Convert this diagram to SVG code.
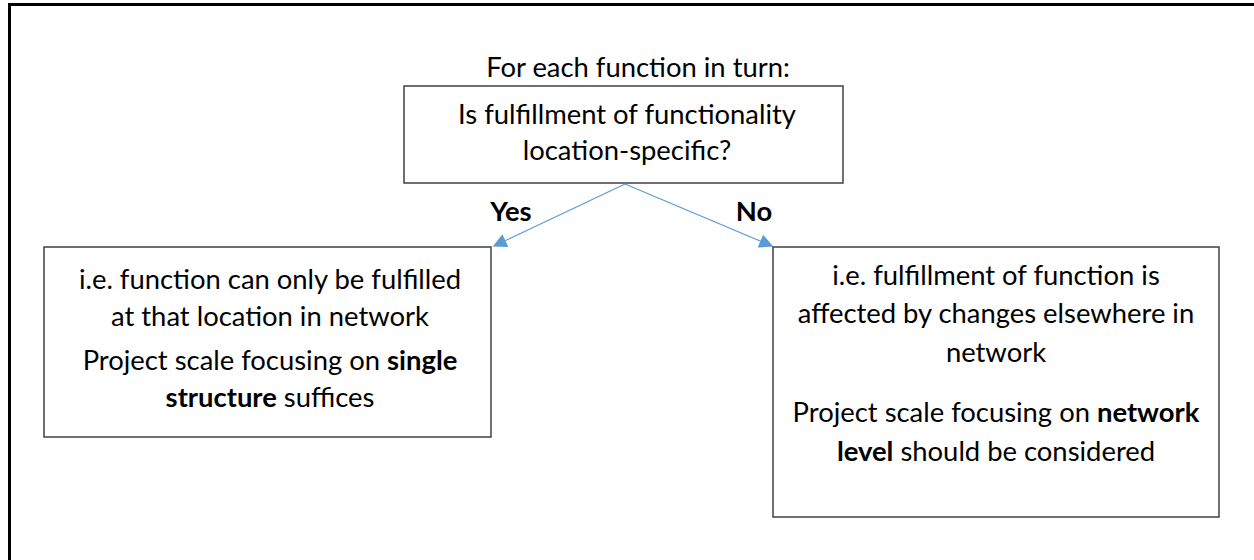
<svg xmlns="http://www.w3.org/2000/svg" width="1254" height="560" viewBox="0 0 1254 560">
<style>
.t{font-family:Lato,"Liberation Sans",sans-serif;font-size:27.4px;fill:#000;text-anchor:middle}
.b{font-weight:bold}
.box{fill:#fff;stroke:#404040;stroke-width:1.5}
.c{stroke:#5B9BD5;stroke-width:1.2;fill:none}
</style>
<defs>
<marker id="ah" viewBox="0 0 10 10" refX="9" refY="5" markerWidth="16" markerHeight="14" markerUnits="userSpaceOnUse" orient="auto">
<path d="M0,0 L10,5 L0,10 z" fill="#5B9BD5"/>
</marker>
</defs>
<rect x="0" y="0" width="1254" height="560" fill="#fff"/>
<rect id="frame" x="9.5" y="4.5" width="1260" height="580" fill="none" stroke="#000" stroke-width="3"/>
<text class="t" x="638" y="77">For each function in turn:</text>
<g id="question">
<rect class="box" x="404" y="86" width="439" height="97"/>
<text class="t" x="627" y="124">Is fulfillment of functionality</text>
<text class="t" x="627" y="160">location-specific?</text>
</g>
<g id="connectors">
<line class="c" x1="625" y1="184" x2="494" y2="246" marker-end="url(#ah)"/>
<line class="c" x1="625" y1="184" x2="772" y2="246" marker-end="url(#ah)"/>
<text class="t b" x="511" y="221">Yes</text>
<text class="t b" x="754" y="221">No</text>
</g>
<g id="yes">
<rect class="box" x="44" y="247" width="447" height="190"/>
<text class="t" x="270" y="289">i.e. function can only be fulfilled</text>
<text class="t" x="270" y="326">at that location in network</text>
<text class="t" x="270" y="370">Project scale focusing on <tspan class="b">single</tspan></text>
<text class="t" x="270" y="407"><tspan class="b">structure</tspan> suffices</text>
</g>
<g id="no">
<rect class="box" x="773" y="247" width="446" height="270"/>
<text class="t" x="996" y="285">i.e. fulfillment of function is</text>
<text class="t" x="996" y="323">affected by changes elsewhere in</text>
<text class="t" x="996" y="362">network</text>
<text class="t" x="996" y="422">Project scale focusing on <tspan class="b">network</tspan></text>
<text class="t" x="996" y="461"><tspan class="b">level</tspan> should be considered</text>
</g>
</svg>
